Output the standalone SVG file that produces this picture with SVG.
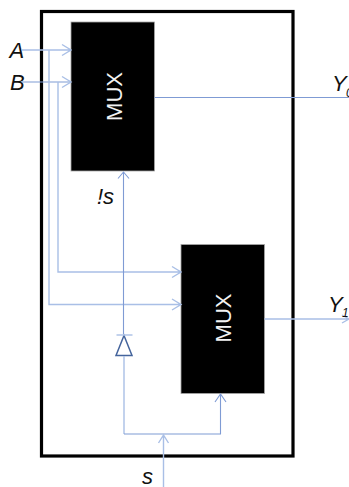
<svg xmlns="http://www.w3.org/2000/svg" width="349" height="487" viewBox="0 0 349 487">
<style>
.w{fill:none;stroke:#7f9bd4;stroke-width:1.1}
.w2{fill:none;stroke:#a9bfe6;stroke-width:1.4}
.box{fill:#000;stroke:#a6a6a6;stroke-width:.8}
.mux{font:22px "Liberation Sans",sans-serif;fill:#f2f2f2;text-anchor:middle}
.lbl{font:italic 22px "Liberation Sans",sans-serif;fill:#111}
.sub{font:italic 12px "Liberation Sans",sans-serif;fill:#111}
</style>
<rect width="349" height="487" fill="#fff"/>
<g id="boundary"><rect x="41.500" y="11.500" width="251.500" height="444.500" fill="none" stroke="#000" stroke-width="3.200"/></g>
<g id="mux-top"><rect class="box" x="71" y="22" width="83.500" height="149"/><text class="mux" transform="translate(121.500,96.500) rotate(-90)">MUX</text></g>
<g id="mux-bottom"><rect class="box" x="181" y="244.500" width="83.500" height="149"/><text class="mux" transform="translate(231,318) rotate(-90)">MUX</text></g>
<g id="inverter"><path d="M124 335.500 L132 355.500 H116 Z" fill="#fff" stroke="#44649c" stroke-width="1.500"/><path class="w2" d="M116.500 335H132.500"/></g>
<g id="connectors">
<path class="w2" d="M22 50H71M62 44.500L71 50L62 55.500"/>
<path class="w" d="M22 82H71"/><path class="w2" d="M62 76.500L71 82L62 87.500"/>
<path class="w2" d="M49 50V304.500H181M172 299L181 304.500L172 310"/>
<path class="w2" d="M58 82V272H181M172 266.500L181 272L172 277.500"/>
<path class="w" d="M123.500 334V172M118 178.500L123.500 172L129 178.500"/>
<path class="w2" d="M124 356V434"/>
<path class="w" d="M124 434H220.500V394M215 402L220.500 394L226 402"/>
<path class="w2" d="M163.500 487V435M158.500 443L163.500 435L168.500 443"/>
<path class="w" d="M154.500 97.500H349"/>
<path class="w2" d="M264.500 319H349M342 315L349 319L342 323"/>
</g>
<g id="labels">
<text class="lbl" x="9.500" y="57.500">A</text>
<text class="lbl" x="10" y="90">B</text>
<text class="lbl" x="97" y="204">!s</text>
<text class="lbl" x="142" y="484">s</text>
<text class="lbl" x="332" y="91">Y</text><text class="sub" x="346" y="97">0</text>
<text class="lbl" x="328" y="312">Y</text><text class="sub" x="342" y="317">1</text>
</g>
</svg>
